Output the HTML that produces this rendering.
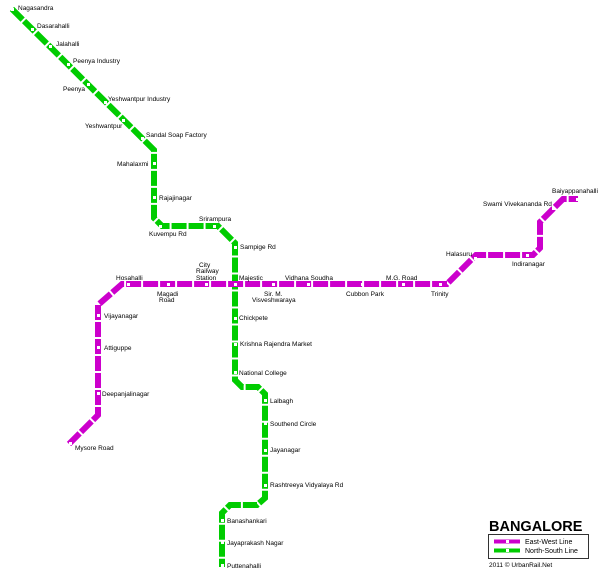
<!DOCTYPE html>
<html><head><meta charset="utf-8"><style>
html,body{margin:0;padding:0;background:#fff;}
svg{display:block;}
text{font-family:"Liberation Sans",Arial,sans-serif;font-size:6.5px;fill:#000;}
</style></head><body>
<svg width="600" height="573" viewBox="0 0 600 573" xmlns="http://www.w3.org/2000/svg">
<rect x="0" y="0" width="600" height="573" fill="#fff"/>
<polyline fill="none" stroke="#00cc00" stroke-width="6" stroke-dasharray="15 2"
 points="12,9 154,150 154,218 162,226 218,226 235,243 235,380 242,387 258,387 265,394 265,498 257,505 230,505 222,513 222,567"/>
<polyline fill="none" stroke="#cc00cc" stroke-width="6" stroke-dasharray="15 2"
 points="69,444 98,415 98,305 122,284 447,284 476,255 533,255 540,248 540,222 563,199 578,199"/>
<g fill="#fff">
<rect x="11" y="8" width="3" height="3"/><rect x="31" y="28" width="3" height="3"/><rect x="49" y="45" width="3" height="3"/><rect x="67" y="63" width="3" height="3"/><rect x="87" y="83" width="3" height="3"/><rect x="104" y="101" width="3" height="3"/><rect x="122" y="119" width="3" height="3"/><rect x="141" y="137" width="3" height="3"/>
<rect x="153" y="162" width="3" height="3"/><rect x="153" y="196" width="3" height="3"/><rect x="159" y="225" width="3" height="3"/><rect x="213" y="225" width="3" height="3"/>
<rect x="234" y="246" width="3" height="3"/><rect x="234" y="283" width="3" height="3"/><rect x="234" y="317" width="3" height="3"/><rect x="234" y="343" width="3" height="3"/><rect x="234" y="371" width="3" height="3"/>
<rect x="264" y="399" width="3" height="3"/><rect x="264" y="422" width="3" height="3"/><rect x="264" y="449" width="3" height="3"/><rect x="264" y="484" width="3" height="3"/>
<rect x="221" y="519" width="3" height="3"/><rect x="221" y="541" width="3" height="3"/><rect x="221" y="564" width="3" height="3"/>
<rect x="127" y="283" width="3" height="3"/><rect x="167" y="283" width="3" height="3"/><rect x="205" y="283" width="3" height="3"/><rect x="272" y="283" width="3" height="3"/><rect x="307" y="283" width="3" height="3"/><rect x="361" y="283" width="3" height="3"/><rect x="402" y="283" width="3" height="3"/><rect x="439" y="283" width="3" height="3"/>
<rect x="474" y="257" width="3" height="3"/><rect x="526" y="254" width="3" height="3"/><rect x="552" y="207" width="3" height="3"/><rect x="576" y="198" width="3" height="3"/>
<rect x="97" y="314" width="3" height="3"/><rect x="97" y="346" width="3" height="3"/><rect x="97" y="392" width="3" height="3"/><rect x="69" y="442" width="3" height="3"/>
</g>
<text x="18" y="10">Nagasandra</text>
<text x="37" y="28">Dasarahalli</text>
<text x="56" y="46">Jalahalli</text>
<text x="73" y="63">Peenya Industry</text>
<text x="63" y="91">Peenya</text>
<text x="108" y="101">Yeshwantpur Industry</text>
<text x="85" y="128">Yeshwantpur</text>
<text x="146" y="137">Sandal Soap Factory</text>
<text x="117" y="166">Mahalaxmi</text>
<text x="159" y="200">Rajajinagar</text>
<text x="149" y="236">Kuvempu Rd</text>
<text x="199" y="221">Srirampura</text>
<text x="240" y="249">Sampige Rd</text>
<text x="239" y="280">Majestic</text>
<text x="239" y="320">Chickpete</text>
<text x="240" y="346">Krishna Rajendra Market</text>
<text x="239" y="375">National College</text>
<text x="270" y="403">Lalbagh</text>
<text x="270" y="426">Southend Circle</text>
<text x="270" y="452">Jayanagar</text>
<text x="270" y="487">Rashtreeya Vidyalaya Rd</text>
<text x="227" y="523">Banashankari</text>
<text x="227" y="545">Jayaprakash Nagar</text>
<text x="227" y="568">Puttenahalli</text>
<text x="116" y="280">Hosahalli</text>
<text x="157" y="296">Magadi</text><text x="159" y="302">Road</text>
<text x="199" y="267">City</text><text x="196" y="273">Railway</text><text x="196" y="280">Station</text>
<text x="264" y="296">Sir. M.</text><text x="252" y="302">Visveshwaraya</text>
<text x="285" y="280">Vidhana Soudha</text>
<text x="346" y="296">Cubbon Park</text>
<text x="386" y="280">M.G. Road</text>
<text x="431" y="296">Trinity</text>
<text x="446" y="256">Halasuru</text>
<text x="512" y="266">Indiranagar</text>
<text x="483" y="206">Swami Vivekananda Rd</text>
<text x="552" y="193">Baiyappanahalli</text>
<text x="104" y="318">Vijayanagar</text>
<text x="104" y="350">Attiguppe</text>
<text x="102" y="396">Deepanjalinagar</text>
<text x="75" y="450">Mysore Road</text>
<text x="489" y="531" style="font-size:14.5px;font-weight:bold">BANGALORE</text>
<rect x="488.5" y="534.5" width="100" height="24" fill="none" stroke="#000" stroke-width="0.8"/>
<line x1="494" y1="541.5" x2="520" y2="541.5" stroke="#cc00cc" stroke-width="4"/>
<rect x="506" y="540" width="3" height="3" fill="#fff"/>
<line x1="494" y1="550.5" x2="520" y2="550.5" stroke="#00cc00" stroke-width="4"/>
<rect x="506" y="549" width="3" height="3" fill="#fff"/>
<text x="525" y="544" style="font-size:7px">East-West Line</text>
<text x="525" y="553" style="font-size:7px">North-South Line</text>
<text x="489" y="567" style="font-size:6.5px">2011 © UrbanRail.Net</text>
</svg>
</body></html>
